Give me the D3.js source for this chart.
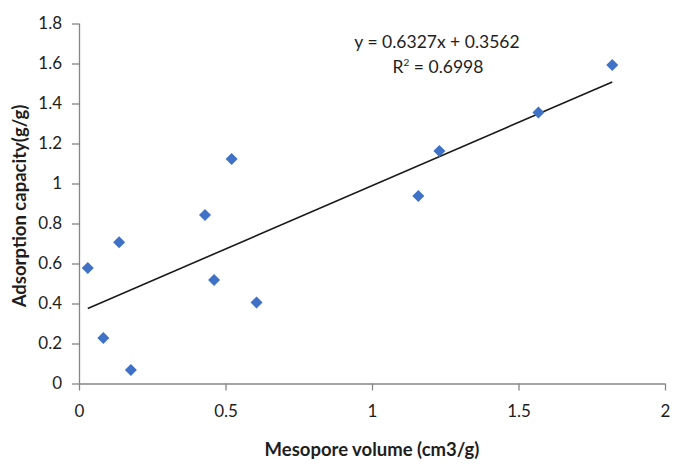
<!DOCTYPE html>
<html>
<head>
<meta charset="utf-8">
<script src="https://cdn.jsdelivr.net/npm/d3@7"></script>
<style>
  body { margin: 0; background: #fff; }
  text { font-family: Lato, "Open Sans", sans-serif; fill: #1e1e1e; }
</style>
</head>
<body>
<svg id="chart" width="683" height="470"></svg>
<script>
// data
var volume = [0.030, 0.083, 0.137, 0.177, 0.430, 0.461, 0.521, 0.606, 1.158, 1.230, 1.568, 1.820];
var capacity = [0.577, 0.227, 0.706, 0.067, 0.842, 0.517, 1.123, 0.405, 0.937, 1.163, 1.355, 1.593];
var xTicks = [0, 0.5, 1, 1.5, 2];
var yTicks = [0, 0.2, 0.4, 0.6, 0.8, 1, 1.2, 1.4, 1.6, 1.8];
var slope = 0.6327, intercept = 0.3562;
var eqLabel = "y = 0.6327x + 0.3562";
var r2Value = "0.6998";

var svg = d3.select("#chart");

var x = d3.scaleLinear().domain([0, 2]).range([79, 665]);
var y = d3.scaleLinear().domain([0, 1.8]).range([383.5, 23.5]);

var axisColor = "#868686";

var gx = svg.append("g")
    .attr("transform", "translate(0," + y(0) + ")")
    .call(d3.axisBottom(x).tickValues(xTicks).tickSize(7).tickPadding(14).tickFormat(d3.format("")));
var gy = svg.append("g")
    .attr("transform", "translate(" + x(0) + ",0)")
    .call(d3.axisLeft(y).tickValues(yTicks).tickSize(7).tickPadding(10).tickFormat(d3.format("")));

[gx, gy].forEach(function (g) {
    g.select(".domain").attr("stroke", axisColor).attr("stroke-width", 1.3);
    g.selectAll(".tick line").attr("stroke", axisColor).attr("stroke-width", 1.3);
    g.selectAll(".tick text")
        .style("font-family", "Lato, sans-serif")
        .style("font-size", "17px")
        .attr("fill", "#1e1e1e");
});
// drop the outer tick stubs from the domain path
gx.select(".domain").attr("d", "M" + x(0) + ",0.5H" + x(2));
gy.select(".domain").attr("d", "M0.5," + y(0) + "V" + y(1.8));

// trend line
var xMin = d3.min(volume), xMax = d3.max(volume);
svg.append("line")
    .attr("x1", x(xMin)).attr("y1", y(slope * xMin + intercept))
    .attr("x2", x(xMax)).attr("y2", y(slope * xMax + intercept))
    .attr("stroke", "#1a1a1a")
    .attr("stroke-width", 1.6);

// diamond markers
var diamond = d3.symbol().type(d3.symbolDiamond2).size(92);
svg.selectAll(".pt")
    .data(volume)
    .enter().append("path")
    .attr("class", "pt")
    .attr("d", diamond)
    .attr("transform", function (d, i) {
        return "translate(" + x(d) + "," + y(capacity[i]) + ")";
    })
    .attr("fill", "#3f72c6");

// equation labels
svg.append("text")
    .attr("x", 437).attr("y", 48)
    .attr("text-anchor", "middle")
    .style("font-size", "17.5px")
    .text(eqLabel);

var r2 = svg.append("text")
    .attr("x", 438).attr("y", 73)
    .attr("text-anchor", "middle")
    .style("font-size", "17.5px");
r2.append("tspan").text("R");
r2.append("tspan").attr("dy", -7).style("font-size", "10px").text("2");
r2.append("tspan").attr("dy", 7).text(" = " + r2Value);

// axis titles
svg.append("text")
    .attr("x", 372).attr("y", 456)
    .attr("text-anchor", "middle")
    .style("font-size", "18.5px")
    .style("font-weight", "bold")
    .text("Mesopore volume (cm3/g)");

svg.append("text")
    .attr("transform", "translate(26,206) rotate(-90)")
    .attr("text-anchor", "middle")
    .style("font-size", "18.5px")
    .style("font-weight", "bold")
    .text("Adsorption capacity(g/g)");
</script>
</body>
</html>
